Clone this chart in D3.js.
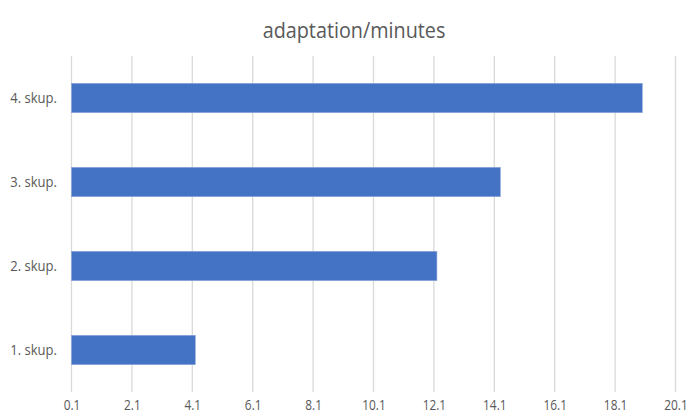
<!DOCTYPE html>
<html>
<head>
<meta charset="utf-8">
<script src="https://cdn.jsdelivr.net/npm/d3@7"></script>
<style>
  body { margin: 0; background: #fff; }
  text { font-family: "Open Sans", sans-serif; fill: #595959; }
</style>
</head>
<body>
<div id="chart-area"></div>
<script>
// Data
const groups = ["1. skup.", "2. skup.", "3. skup.", "4. skup."];
const minutes = [4.2, 12.2, 14.3, 19.0];
const tickValues = [0.1, 2.1, 4.1, 6.1, 8.1, 10.1, 12.1, 14.1, 16.1, 18.1, 20.1];
const chartTitle = "adaptation/minutes";

// Dimensions
const W = 689, H = 417;
const plot = { left: 71.5, right: 675.5, top: 56, bottom: 392 };

const svg = d3.select("#chart-area")
  .append("svg")
    .attr("width", W)
    .attr("height", H);

// x scale (minutes), starts at 0.1
const x = d3.scaleLinear()
  .domain([0.1, 20.1])
  .range([plot.left, plot.right]);

// y scale, first group at the bottom
const y = d3.scaleBand()
  .domain(groups.slice().reverse())
  .range([plot.top, plot.bottom])
  .paddingInner(0.65)
  .paddingOuter(0.325);

// Gridlines
svg.append("g")
  .selectAll("line")
  .data(tickValues)
  .enter().append("line")
    .attr("x1", d => x(d))
    .attr("x2", d => x(d))
    .attr("y1", plot.top)
    .attr("y2", plot.bottom)
    .attr("stroke", "#d9d9d9")
    .attr("stroke-width", 1.3);

// Bars
svg.append("g")
  .selectAll("rect")
  .data(groups.map((g, i) => ({ group: g, value: minutes[i] })))
  .enter().append("rect")
    .attr("x", x(0.1))
    .attr("y", d => y(d.group))
    .attr("width", d => x(d.value) - x(0.1))
    .attr("height", y.bandwidth())
    .attr("fill", "#4472c4")
    .attr("stroke", "#8eaadb")
    .attr("stroke-width", 0.6);

// X axis labels (text is a bit narrow in the original)
const xAxis = d3.axisBottom(x)
  .tickValues(tickValues)
  .tickFormat(d3.format(".1f"))
  .tickSize(0)
  .tickPadding(0);
const xg = svg.append("g")
  .attr("transform", "translate(0," + 400 + ")")
  .call(xAxis);
xg.select(".domain").remove();
xg.selectAll("text")
  .attr("font-size", "14px")
  .attr("fill", "#595959")
  .attr("transform", "scale(0.85,1)")
  .style("font-family", "'Open Sans', sans-serif");

// Y axis labels
const yAxis = d3.axisLeft(y).tickSize(0).tickPadding(0);
const yg = svg.append("g")
  .attr("transform", "translate(" + 57 + ",0)")
  .call(yAxis);
yg.select(".domain").remove();
yg.selectAll("text")
  .attr("font-size", "14.5px")
  .attr("fill", "#595959")
  .attr("transform", "scale(0.9,1)")
  .style("font-family", "'Open Sans', sans-serif");

// Title
svg.append("g")
  .attr("transform", "translate(354,38) scale(0.9,1)")
  .append("text")
    .attr("text-anchor", "middle")
    .attr("font-size", "22px")
    .text(chartTitle);
</script>
</body>
</html>
